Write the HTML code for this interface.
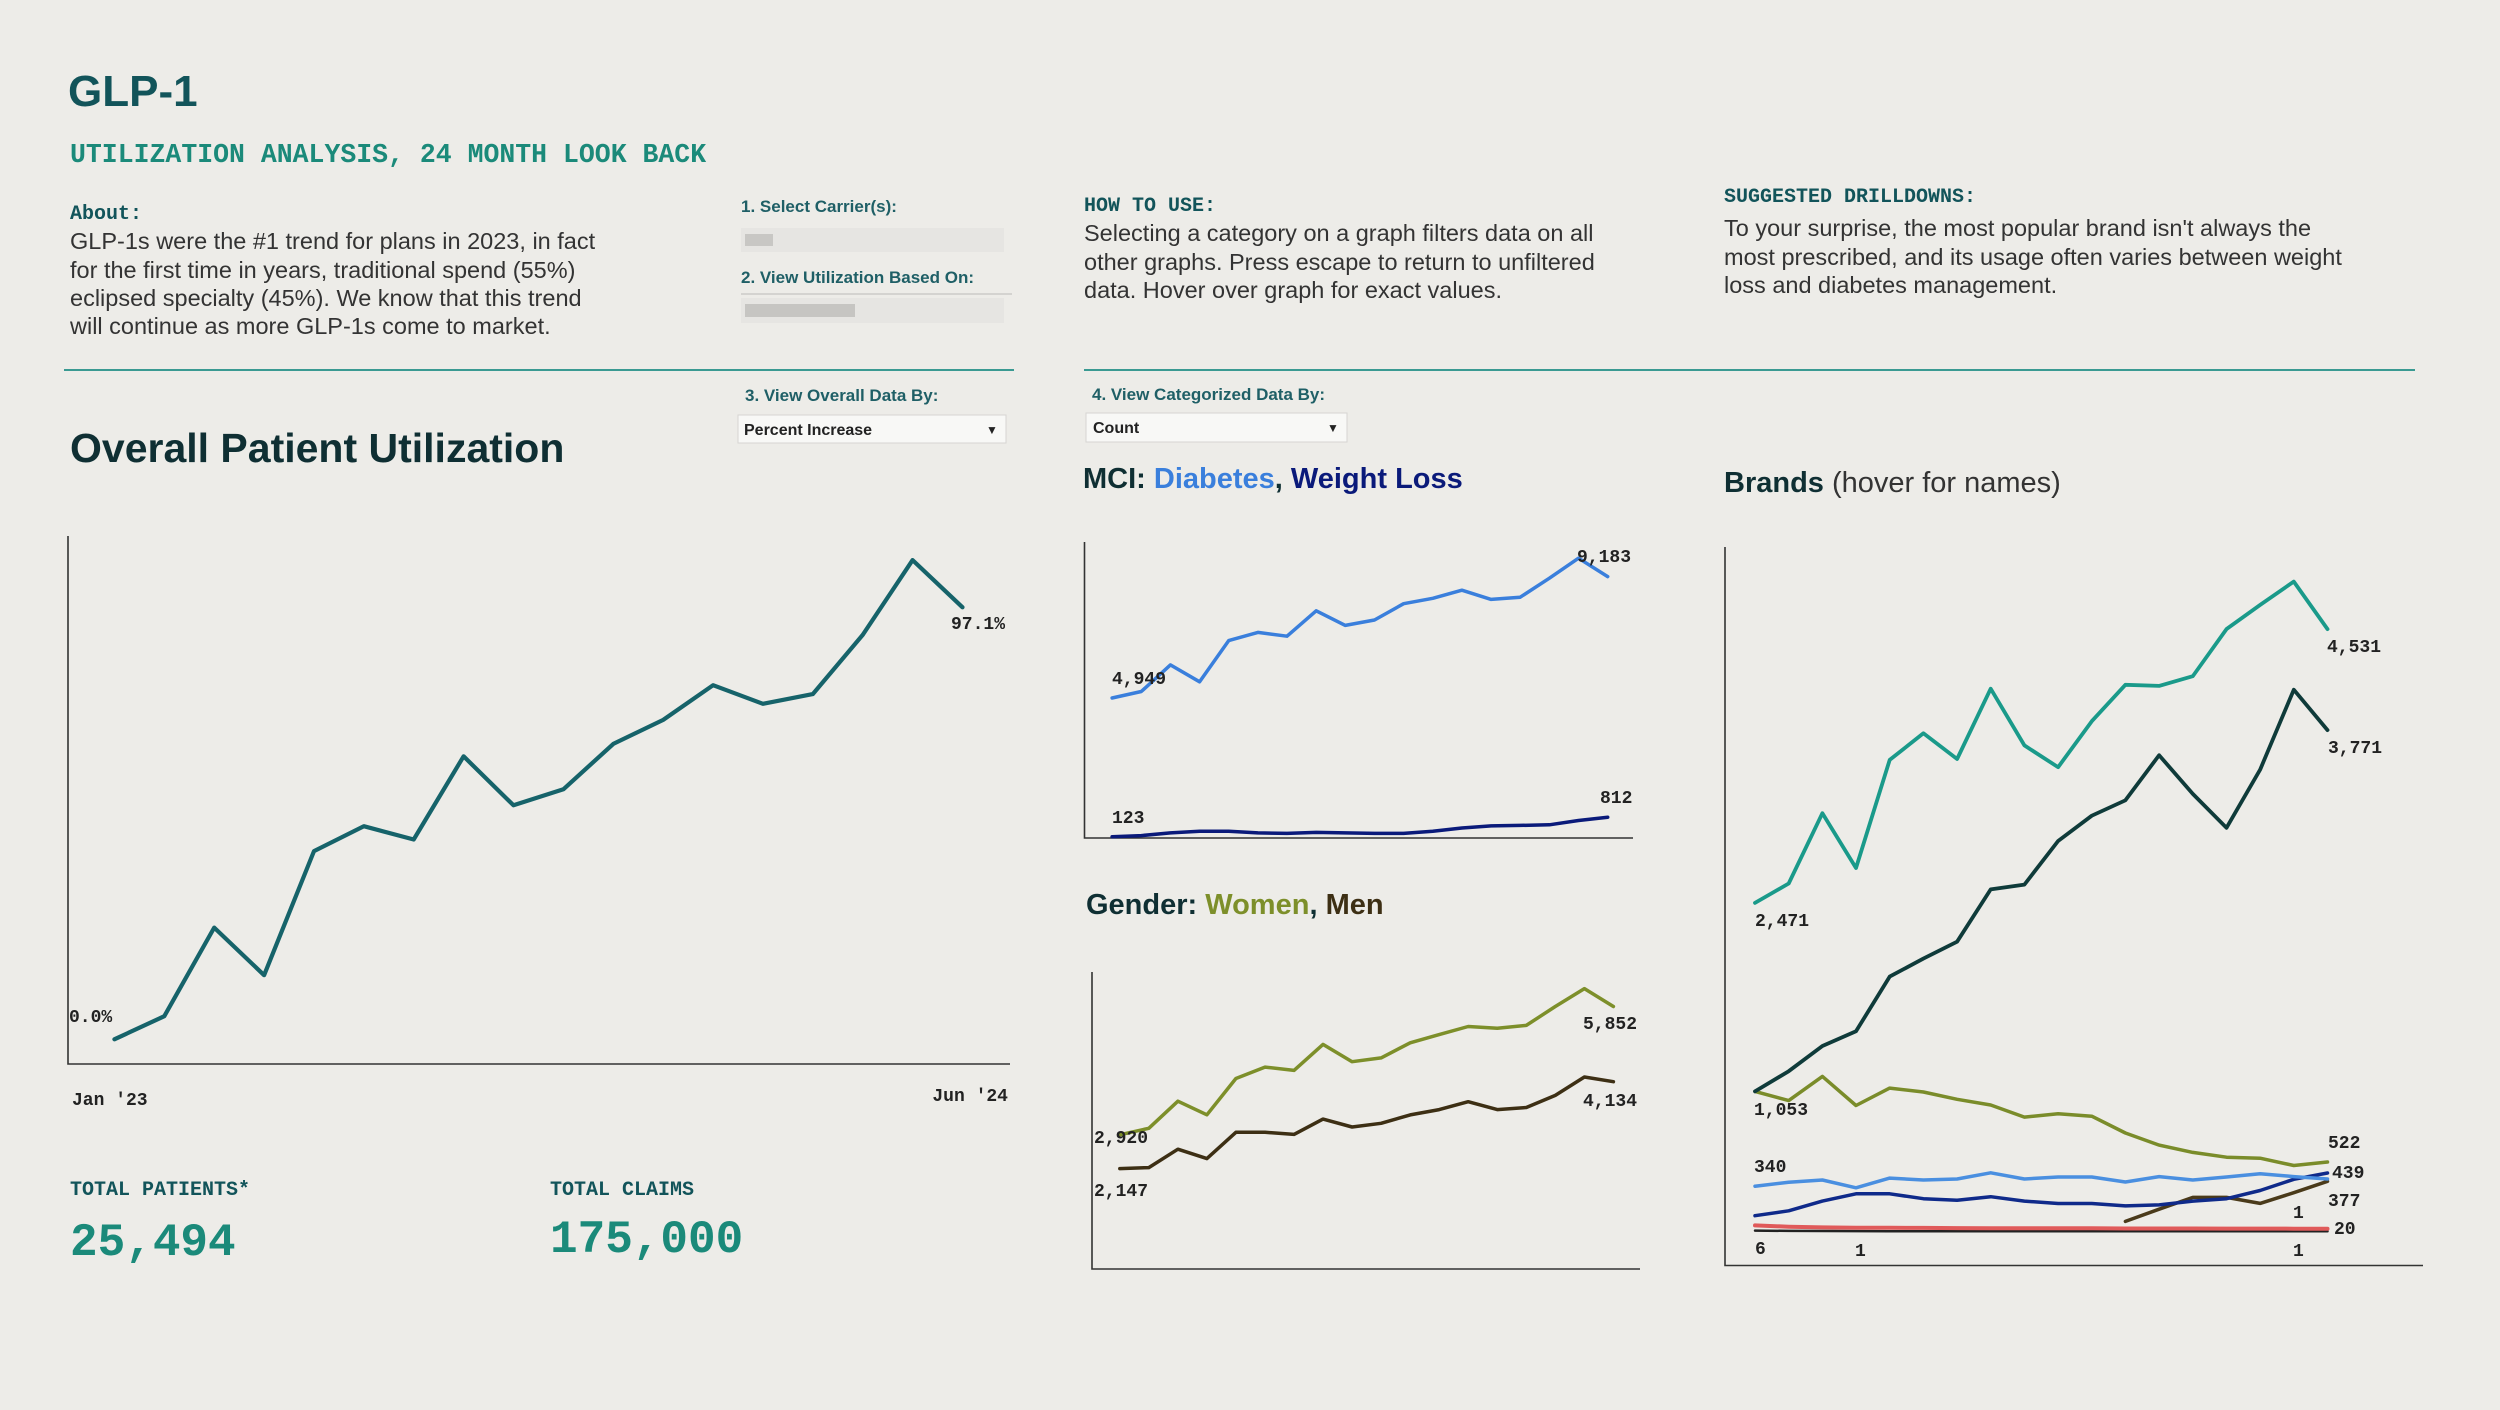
<!DOCTYPE html>
<html><head><meta charset="utf-8"><style>
html,body{margin:0;padding:0;background:#edece8;}
body{width:2500px;height:1410px;overflow:hidden;position:relative;font-family:"Liberation Sans",sans-serif;}
svg{position:absolute;left:0;top:0}
.mono{font-family:"Liberation Mono",monospace;font-weight:bold}
</style></head><body>
<svg id="s" width="2500" height="1410" viewBox="0 0 2500 1410">
<rect x="0" y="0" width="2500" height="1410" fill="#edece8"/>
<text x="68" y="106" font-size="44" font-weight="bold" fill="#12545a">GLP-1</text>
<text class="mono" x="70" y="162" font-size="26.5" fill="#1b8a7a">UTILIZATION ANALYSIS, 24 MONTH LOOK BACK</text>
<g>
<text class="mono" x="70" y="219" font-size="20" fill="#12545a">About:</text>
<g font-size="23.5" fill="#333">
<text x="70" y="249">GLP-1s were the #1 trend for plans in 2023, in fact</text>
<text x="70" y="278">for the first time in years, traditional spend (55%)</text>
<text x="70" y="306">eclipsed specialty (45%). We know that this trend</text>
<text x="70" y="334">will continue as more GLP-1s come to market.</text>
</g></g>
<g>
<text x="741" y="212" font-size="17" font-weight="bold" fill="#1f5f66">1. Select Carrier(s):</text>
<rect x="741" y="228" width="263" height="24" fill="#e6e5e2"/>
<rect x="745" y="234" width="28" height="12" fill="#c8c7c4"/>
</g>
<g>
<text x="741" y="283" font-size="17" font-weight="bold" fill="#1f5f66">2. View Utilization Based On:</text>
<line x1="741" y1="294" x2="1012" y2="294" stroke="#d4d3d0" stroke-width="2"/>
<rect x="741" y="298" width="263" height="25" fill="#e6e5e2"/>
<rect x="745" y="304" width="110" height="13" fill="#c6c5c2"/>
</g>
<g>
<text class="mono" x="1084" y="211" font-size="20" fill="#12545a">HOW TO USE:</text>
<g font-size="23.5" fill="#333">
<text x="1084" y="241">Selecting a category on a graph filters data on all</text>
<text x="1084" y="270">other graphs. Press escape to return to unfiltered</text>
<text x="1084" y="298">data. Hover over graph for exact values.</text>
</g></g>
<g>
<text class="mono" x="1724" y="202" font-size="20" fill="#12545a">SUGGESTED DRILLDOWNS:</text>
<g font-size="23.5" fill="#333">
<text x="1724" y="236">To your surprise, the most popular brand isn't always the</text>
<text x="1724" y="265">most prescribed, and its usage often varies between weight</text>
<text x="1724" y="293">loss and diabetes management.</text>
</g></g>
<line x1="64" y1="370" x2="1014" y2="370" stroke="#3a9a92" stroke-width="2"/>
<line x1="1084" y1="370" x2="2415" y2="370" stroke="#3a9a92" stroke-width="2"/>
<text x="745" y="401" font-size="17" font-weight="bold" fill="#1f5f66">3. View Overall Data By:</text>
<g>
<rect x="738" y="415" width="268" height="28" fill="#f8f8f6" stroke="#d6d5d2"/>
<text x="744" y="435" font-size="16" font-weight="bold" fill="#222">Percent Increase</text>
<text x="986" y="434" font-size="12" fill="#222">▼</text>
</g>
<text x="1092" y="400" font-size="17" font-weight="bold" fill="#1f5f66">4. View Categorized Data By:</text>
<g>
<rect x="1086" y="413" width="261" height="29" fill="#f8f8f6" stroke="#d6d5d2"/>
<text x="1093" y="433" font-size="16" font-weight="bold" fill="#222">Count</text>
<text x="1327" y="432" font-size="12" fill="#222">▼</text>
</g>
<text x="70" y="462" font-size="41" font-weight="bold" fill="#0f2f33">Overall Patient Utilization</text>
<text x="1083" y="488" font-size="29" font-weight="bold" fill="#0f2f33">MCI: <tspan fill="#3a7fdc">Diabetes</tspan>, <tspan fill="#0a1a7a">Weight Loss</tspan></text>
<text x="1724" y="492" font-size="29" fill="#333"><tspan font-weight="bold" fill="#0f2f33">Brands</tspan> (hover for names)</text>
<text x="1086" y="914" font-size="29" font-weight="bold" fill="#0f2f33">Gender: <tspan fill="#7d8f2a">Women</tspan>, <tspan fill="#3d2f14">Men</tspan></text>
<g>
<text class="mono" x="70" y="1195" font-size="20" fill="#12545a">TOTAL PATIENTS*</text>
<text class="mono" x="70" y="1255" font-size="46" fill="#1b8a7a">25,494</text>
</g>
<g>
<text class="mono" x="550" y="1195" font-size="20" fill="#12545a">TOTAL CLAIMS</text>
<text class="mono" x="550" y="1252" font-size="46" fill="#1b8a7a">175,000</text>
</g>
<g id="charts"></g>
</svg>
<script>
// Overall chart data
const months = ["Jan '23","Feb '23","Mar '23","Apr '23","May '23","Jun '23","Jul '23","Aug '23","Sep '23","Oct '23","Nov '23","Dec '23","Jan '24","Feb '24","Mar '24","Apr '24","May '24","Jun '24"];
const overallPct = [0,5.2,25.1,14.4,42.3,47.9,44.9,63.6,52.6,56.2,66.4,71.8,79.6,75.4,77.6,90.9,107.7,97.1];
const xTickLabels = ["Jan '23","Jun '24"];
// MCI
const diabetes = [4949,5146,5950,5441,6688,6935,6820,7591,7148,7312,7805,7969,8215,7936,8002,8576,9183,8625];
const weightLoss = [123,161,257,314,314,257,238,276,257,238,238,314,429,505,524,543,696,812];
// Gender
const women = [2920,3068,3687,3378,4207,4466,4392,4986,4590,4677,5023,5209,5394,5357,5419,5852,6260,5852];
const men = [2147,2171,2592,2376,2978,2978,2930,3279,3098,3182,3375,3495,3676,3495,3543,3820,4242,4134];
// Brands
const brandA = [2471,2617,3146,2734,3547,3747,3554,4083,3656,3492,3838,4112,4104,4177,4531,4713,4888,4531];
const brandB = [1053,1205,1395,1505,1917,2052,2179,2573,2609,2937,3127,3243,3582,3291,3036,3473,4075,3771];
const brandC = [1053,984,1166,947,1078,1049,994,951,860,885,867,740,649,594,558,551,496,522];
const brandD = [340,369,387,328,401,387,394,441,394,409,409,372,412,387,409,434,412,394];
const brandE = [118,155,228,283,283,246,235,261,228,210,210,192,199,228,246,308,392,439];
const brandF = [null,null,null,null,null,null,null,null,null,null,null,75,167,256,256,211,291,377];
const brandG = [45,35,30,28,27,26,25,24,24,23,23,22,22,22,21,21,20,20];
const brandH = [6,4,3,2,1,1,1,1,1,1,1,1,1,1,1,1,1,1];

const NS="http://www.w3.org/2000/svg";
const root=document.getElementById('charts');
function mk(tag,attrs,parent){const e=document.createElementNS(NS,tag);for(const k in attrs)e.setAttribute(k,attrs[k]);(parent||root).appendChild(e);return e;}
function lin(d0,d1,r0,r1){return v=>r0+(v-d0)*(r1-r0)/(d1-d0);}
function drawLine(vals,xs,ys,color,w,name){
  let d="",pen=false;
  vals.forEach((v,i)=>{if(v===null){pen=false;return;}d+=(pen?"L":"M")+xs(i).toFixed(1)+","+ys(v).toFixed(1);pen=true;});
  const p=mk('path',{d:d,fill:"none",stroke:color,"stroke-width":w,"stroke-linejoin":"round","stroke-linecap":"round"});
  
  
  return p;
}
function label(txt,x,y,name,anchor){
  const t=mk('text',{x:x,y:y,"font-size":18,"font-family":"Liberation Mono, monospace","font-weight":"bold",fill:"#222","dominant-baseline":"middle","text-anchor":anchor||"start"});
  t.textContent=txt;
  
  
}
function axes(x0,y0,x1,y1,name){
  const g=mk('path',{d:`M${x0},${y0}V${y1}H${x1}`,fill:"none",stroke:"#333","stroke-width":1.6});
  
  
}
const n=months.length;
// Overall chart
axes(68,536,1010,1064,'overall-axes');
const ox=lin(0,n-1,114.4,962.5), oy=lin(0,97.1,1039.3,607.3);
drawLine(overallPct,ox,oy,"#16636a",4.2,'overall-utilization-line');
label(overallPct[0].toFixed(1)+"%",69,1017,'overall-start-label');
label(overallPct[n-1].toFixed(1)+"%",951,624,'overall-end-label');
label(xTickLabels[0],72,1100,'x-tick-start');
label(xTickLabels[1],1008,1096,'x-tick-end','end');
// MCI chart
axes(1084.5,542,1633,838,'mci-axes');
const mx=lin(0,n-1,1112.1,1607.7);
const dy=lin(4949,9183,698,558.2), wy=lin(123,812,836.7,817.2);
drawLine(diabetes,mx,dy,"#3a7fdc",3.5,'diabetes-line');
drawLine(weightLoss,mx,wy,"#0a1a7a",3.5,'weight-loss-line');
label("4,949",1112,679,'diabetes-start-label');
label("9,183",1577,557,'diabetes-peak-label');
label("123",1112,818,'weight-loss-start-label');
label("812",1600,798,'weight-loss-end-label');
// Gender chart
axes(1092,972,1640,1269,'gender-axes');
const gx=lin(0,n-1,1119.8,1613.4), gy=lin(2920,5852,1134.8,1006.5);
drawLine(women,gx,gy,"#7d8f2a",3.5,'women-line');
drawLine(men,gx,gy,"#3d2f14",3.5,'men-line');
label("2,920",1094,1138,'women-start-label');
label("5,852",1583,1024,'women-end-label');
label("2,147",1094,1191,'men-start-label');
label("4,134",1583,1101,'men-end-label');
// Brands chart
axes(1725,547,2423,1265.5,'brands-axes');
const bx=lin(0,n-1,1755,2327.5), by=lin(0,4531,1231.4,629.1);
drawLine(brandH,bx,by,"#222",2.5,'brand-h-line');
drawLine(brandG,bx,by,"#e05a5a",4,'brand-g-line');
drawLine(brandF,bx,by,"#4a3a1a",3.5,'brand-f-line');
drawLine(brandE,bx,by,"#0f2a8a",3.5,'brand-e-line');
drawLine(brandD,bx,by,"#4a8fe0",3.5,'brand-d-line');
drawLine(brandC,bx,by,"#7a8c2a",3.5,'brand-c-line');
drawLine(brandB,bx,by,"#0f3b3a",3.8,'brand-b-line');
drawLine(brandA,bx,by,"#1a9a8a",3.8,'brand-a-line');
label("4,531",2327,647,'brand-a-end-label');
label("3,771",2328,748,'brand-b-end-label');
label("2,471",1755,921,'brand-a-start-label');
label("1,053",1754,1110,'brand-b-start-label');
label("522",2328,1143,'brand-c-end-label');
label("340",1754,1167,'brand-d-start-label');
label("439",2332,1173,'brand-e-end-label');
label("377",2328,1201,'brand-f-end-label');
label("1",2293,1213,'brand-small-label');
label("20",2334,1229,'brand-g-end-label');
label("6",1755,1249,'brand-h-start-label');
label("1",1855,1251,'brand-h-mid-label');
label("1",2293,1251,'brand-h-end-label');
</script>
</body></html>
